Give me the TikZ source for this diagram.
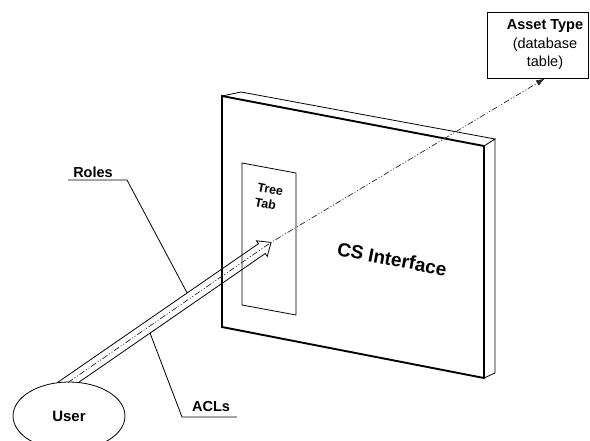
\documentclass[tikz,border=0pt]{standalone}
\usepackage{fontspec}
\setmainfont{Liberation Sans}
\usetikzlibrary{calc,arrows.meta,shapes.geometric}
\begin{document}
\begin{tikzpicture}[x=1pt,y=-1pt,
  thinline/.style={line width=0.8pt, line join=miter},
  frontedge/.style={line width=1.9pt, line join=miter},
  lbl/.style={font=\fontsize{14.5}{17}\selectfont\bfseries, inner sep=0pt},
  flow/.style={line width=0.7pt, black!85, dash pattern=on 6pt off 2pt on 1pt off 2pt on 1pt off 2pt},
]
\useasboundingbox (0,0) rectangle (590,440);

% ---- panel (CS Interface)
\coordinate (FTL) at (222,96);
\coordinate (FTR) at (484,146);
\coordinate (FBR) at (484,378);
\coordinate (FBL) at (222,327);
\coordinate (BTL) at (241,92);
\coordinate (BTR) at (495,139);
\coordinate (BBR) at (495,373);
\draw[thinline] (FTL) -- (BTL) -- (BTR) -- (FTR);
\draw[thinline] (BTR) -- (BBR) -- (FBR);
\draw[frontedge] (FTL) -- (FTR) -- (FBR) -- (FBL) -- cycle;

% ---- tree tab
\draw[thinline] (242,163) -- (296,173) -- (296,315) -- (242,305) -- cycle;
\node[font=\fontsize{12.5}{15}\selectfont\bfseries, align=left, inner sep=0pt, rotate=-10.8] (tree) at (269,197) {Tree\\Tab};

\node[font=\fontsize{19}{22}\selectfont\bfseries, inner sep=0pt, rotate=-10.8] (cs) at (392,259) {CS Interface};

% ---- asset type box
\node[draw, thinline, minimum width=101pt, minimum height=66pt, inner sep=0pt] (asset) at (538,45) {};
\node[align=center, inner sep=0pt, font=\fontsize{14.5}{18.5}\selectfont] (assettext) at (545,45) {\textbf{Asset Type}\\(database\\table)};

% ---- user
\node[draw, ellipse, thinline, minimum width=112pt, minimum height=68pt, inner sep=0pt, font=\fontsize{15}{18}\selectfont\bfseries] (user) at (69,416) {User};

% ---- hollow arrow from user to tree tab
\coordinate (P1) at (57.5,382.5);
\coordinate (P2) at (78.5,382.5);
\coordinate (S) at (68,382.5);
\coordinate (U1) at (258.5,243.7);
\coordinate (U2) at (265.3,253.5);
\coordinate (H1) at (256.5,240.8);
\coordinate (H2) at (267.3,256.4);
\coordinate (T) at (271,242.4);
\draw[thinline] (P1) -- (U1) -- (H1) -- (T) -- (H2) -- (U2) -- (P2);

% ---- flow line user -> tree tab -> asset type
\coordinate (assetin) at ($(asset.south)+(7,0)$);
\draw[flow, -{Latex[length=9pt,width=6pt]}] (S) -- (T) -- (assetin);

% ---- Roles label
\node[lbl] (roles) at (93,172) {Roles};
\coordinate (rolesL) at (68,180);
\coordinate (rolesR) at (127,180);
\coordinate (rolesEnd) at ($(P1)!0.645!(U1)$);
\draw[thinline] (rolesL) -- (rolesR) -- (rolesEnd);

% ---- ACLs label
\node[lbl] (acls) at (211,407) {ACLs};
\coordinate (aclsL) at (182,417);
\coordinate (aclsR) at (237,417);
\coordinate (aclsEnd) at ($(P2)!0.383!(U2)$);
\draw[thinline] (aclsR) -- (aclsL) -- (aclsEnd);
\end{tikzpicture}
\end{document}
